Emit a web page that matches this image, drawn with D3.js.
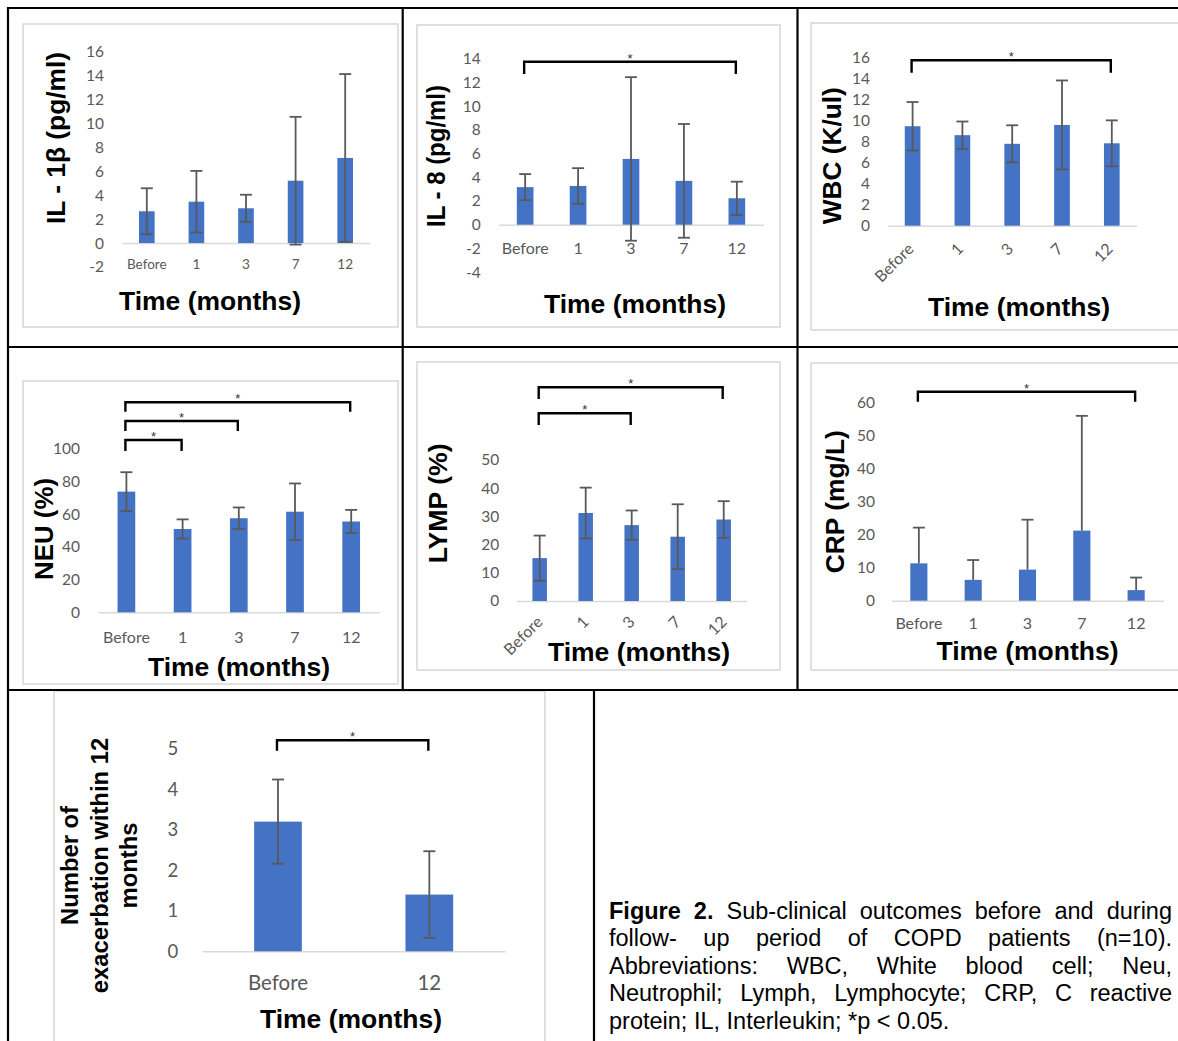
<!DOCTYPE html>
<html><head><meta charset="utf-8">
<script src="https://cdn.jsdelivr.net/npm/d3@7"></script>
<style>body{margin:0;background:#fff}svg{display:block}</style>
</head><body>
<script>
// ---------------- DATA ----------------
const categories = ["Before", "1", "3", "7", "12"];

const il1bMean = [2.65, 3.45, 2.9, 5.2, 7.1];
const il1bSD   = [1.92, 2.57, 1.13, 5.33, 7.0];
const il1bTicks = [-2, 0, 2, 4, 6, 8, 10, 12, 14, 16];

const il8Mean = [3.17, 3.27, 5.55, 3.7, 2.23];
const il8SD   = [1.1, 1.5, 6.9, 4.8, 1.4];
const il8Ticks = [-4, -2, 0, 2, 4, 6, 8, 10, 12, 14];
const il8Sig = [["Before", "12"]];

const wbcMean = [9.45, 8.6, 7.78, 9.57, 7.83];
const wbcSD   = [2.3, 1.3, 1.76, 4.23, 2.18];
const wbcTicks = [0, 2, 4, 6, 8, 10, 12, 14, 16];
const wbcSig = [["Before", "12"]];

const neuMean = [73.9, 51, 57.6, 61.6, 55.6];
const neuSD   = [11.9, 5.9, 6.6, 17.3, 7.1];
const neuTicks = [0, 20, 40, 60, 80, 100];
const neuSig = [["Before", "1"], ["Before", "3"], ["Before", "12"]];

const lympMean = [15.2, 31.2, 26.9, 22.8, 28.9];
const lympSD   = [8, 9, 5.2, 11.5, 6.5];
const lympTicks = [0, 10, 20, 30, 40, 50];
const lympSig = [["Before", "3"], ["Before", "12"]];

const crpMean = [11.3, 6.3, 9.4, 21.2, 3.2];
const crpSD   = [10.8, 6.0, 15.1, 34.7, 3.8];
const crpTicks = [0, 10, 20, 30, 40, 50, 60];
const crpSig = [["Before", "12"]];

const exacCategories = ["Before", "12"];
const exacMean = [3.2, 1.4];
const exacSD   = [1.04, 1.07];
const exacTicks = [0, 1, 2, 3, 4, 5];
const exacSig = [["Before", "12"]];

const xTitle = "Time (months)";
const yTitles = ["IL - 1β (pg/ml)", "IL - 8 (pg/ml)", "WBC (K/ul)", "NEU (%)", "LYMP (%)", "CRP (mg/L)"];
const exacTitleLines = ["Number of", "exacerbation within 12", "months"];

const captionLines = [
  ["Figure", "2.", "Sub-clinical", "outcomes", "before", "and", "during"],
  ["follow-", "up", "period", "of", "COPD", "patients", "(n=10)."],
  ["Abbreviations:", "WBC,", "White", "blood", "cell;", "Neu,"],
  ["Neutrophil;", "Lymph,", "Lymphocyte;", "CRP,", "C", "reactive"],
  ["protein;", "IL,", "Interleukin;", "*p", "<", "0.05."]
];
const captionBoldCount = 2;

// ---------------- LAYOUT ----------------
const W = 1178, H = 1041;
const BAR = "#4472C4", ERR = "#595959", AXIS = "#d9d9d9", TXT = "#595959";
const tickFont = "Lato, 'Open Sans', sans-serif";
const titleFont = "'Liberation Sans', Arial, sans-serif";

const panels = [
  {cats: categories, mean: il1bMean, sd: il1bSD, ticks: il1bTicks, domain: [-2, 16], sig: [], br: [],
   box: [23, 24, 375, 303], yPx: [267, 51.3], xPx: [122, 370], tickX: 104, tickSize: 15.5,
   catY: 264, catSize: 13.5, rot: null, err: "both",
   yTitle: yTitles[0], yT: [65, 138], yLen: 172, xT: [210, 309.5]},
  {cats: categories, mean: il8Mean, sd: il8SD, ticks: il8Ticks, domain: [-4, 14], sig: il8Sig, br: [[61.7, 74]],
   box: [417, 25, 363, 302], yPx: [272.1, 58.8], xPx: [498.7, 763.3], tickX: 480.7, tickSize: 15.5,
   catY: 248, catSize: 16, rot: null, err: "both",
   yTitle: yTitles[1], yT: [445, 156], yLen: 142, xT: [635, 312.5]},
  {cats: categories, mean: wbcMean, sd: wbcSD, ticks: wbcTicks, domain: [0, 16], sig: wbcSig, br: [[60.3, 72.7]],
   box: [811, 23, 380, 307], yPx: [225.7, 57.3], xPx: [887.7, 1136.7], tickX: 870, tickSize: 15.5,
   catY: 250, catSize: 16, rot: [2, 250], err: "both",
   yTitle: yTitles[2], yT: [841, 155.7], yLen: 137, xT: [1019, 316]},
  {cats: categories, mean: neuMean, sd: neuSD, ticks: neuTicks, domain: [0, 100], sig: neuSig,
   br: [[440, 451], [421, 431], [402.3, 411.7]],
   box: [23, 381, 375, 303], yPx: [612.3, 449], xPx: [98.3, 379.3], tickX: 80, tickSize: 15.5,
   catY: 637.7, catSize: 16, rot: null, err: "both",
   yTitle: yTitles[3], yT: [53.3, 529], yLen: 102, xT: [239, 676]},
  {cats: categories, mean: lympMean, sd: lympSD, ticks: lympTicks, domain: [0, 50], sig: lympSig,
   br: [[413.3, 425], [387.3, 399]],
   box: [417, 362, 363, 308], yPx: [601, 460], xPx: [516.7, 746.7], tickX: 499.3, tickSize: 15.5,
   catY: 623, catSize: 16, rot: [4, 623], err: "both",
   yTitle: yTitles[4], yT: [446.7, 503.3], yLen: 120, xT: [639, 661]},
  {cats: categories, mean: crpMean, sd: crpSD, ticks: crpTicks, domain: [0, 60], sig: crpSig, br: [[391.7, 401.7]],
   box: [811, 363, 380, 307], yPx: [600.7, 402.3], xPx: [891.7, 1163.3], tickX: 875, tickSize: 15.5,
   catY: 623.3, catSize: 16, rot: null, err: "plus",
   yTitle: yTitles[5], yT: [844.3, 501.7], yLen: 143, xT: [1027.5, 659.5]},
  {cats: exacCategories, mean: exacMean, sd: exacSD, ticks: exacTicks, domain: [0, 5], sig: exacSig, br: [[740.3, 750.7]],
   box: [54, 691, 491, 370], yPx: [951.3, 748.7], xPx: [202.3, 505], tickX: 178.3, tickSize: 18.5,
   catY: 983, catSize: 20.5, rot: null, err: "both",
   yTitle: null, yT: null, yLen: null, xT: [351, 1027.5]}
];

const svg = d3.select("body").append("svg").attr("width", W).attr("height", H)
  .style("background", "#fff");

panels.forEach((p, pi) => {
  const g = svg.append("g");
  g.append("rect").attr("x", p.box[0]).attr("y", p.box[1]).attr("width", p.box[2]).attr("height", p.box[3])
    .attr("fill", "#fff").attr("stroke", AXIS).attr("stroke-width", 1.6);

  const y = d3.scaleLinear().domain(p.domain).range(p.yPx);
  const x = d3.scaleBand().domain(p.cats).range(p.xPx).paddingInner(0.685).paddingOuter(0.3425);
  const data = p.cats.map((c, i) => ({c, m: p.mean[i], s: p.sd[i]}));
  const y0 = y(0);

  // y axis
  const ya = g.append("g").attr("transform", `translate(${p.tickX},0)`)
    .call(d3.axisLeft(y).tickValues(p.ticks).tickSize(0).tickPadding(0).tickFormat(d => String(d)));
  ya.select(".domain").remove();
  ya.attr("font-family", tickFont).attr("font-size", p.tickSize).attr("color", TXT);

  // x axis
  const xa = g.append("g").attr("transform", `translate(0,${y0})`)
    .call(d3.axisBottom(x).tickSize(0).tickSizeOuter(0));
  xa.select(".domain").attr("stroke", AXIS).attr("stroke-width", 1.6);
  xa.attr("font-family", tickFont).attr("font-size", p.catSize).attr("color", TXT);
  if (p.rot) {
    xa.selectAll(".tick text").attr("y", 0).attr("dy", 0).attr("text-anchor", "end")
      .attr("transform", `translate(${p.rot[0]},${p.rot[1] - y0}) rotate(-45)`);
  } else {
    xa.selectAll(".tick text").attr("y", p.catY - y0).attr("dy", "0.35em");
  }

  // bars
  g.append("g").selectAll("rect").data(data).join("rect")
    .attr("x", d => x(d.c)).attr("width", x.bandwidth())
    .attr("y", d => y(Math.max(0, d.m))).attr("height", d => Math.abs(y(d.m) - y0))
    .attr("fill", BAR);

  // error bars
  const eg = g.append("g").attr("stroke", ERR).attr("stroke-width", 1.8).attr("fill", "none");
  const cap = 6;
  data.forEach(d => {
    const cx = x(d.c) + x.bandwidth() / 2;
    const hi = y(d.m + d.s);
    const lo = p.err === "plus" ? y(d.m) : y(d.m - d.s);
    eg.append("line").attr("x1", cx).attr("x2", cx).attr("y1", hi).attr("y2", lo);
    eg.append("line").attr("x1", cx - cap).attr("x2", cx + cap).attr("y1", hi).attr("y2", hi);
    if (p.err !== "plus")
      eg.append("line").attr("x1", cx - cap).attr("x2", cx + cap).attr("y1", lo).attr("y2", lo);
  });

  // significance brackets
  p.sig.forEach((s, k) => {
    const [top, bot] = p.br[k];
    const x1 = x(s[0]) + x.bandwidth() / 2 - 1;
    const x2 = x(s[1]) + x.bandwidth() / 2 - 1;
    g.append("path").attr("d", `M${x1},${bot}V${top}H${x2}V${bot}`)
      .attr("fill", "none").attr("stroke", "#000").attr("stroke-width", 2.4);
    g.append("text").attr("x", (x1 + x2) / 2).attr("y", top + 1).attr("text-anchor", "middle")
      .attr("font-family", titleFont).attr("font-size", 13).attr("fill", "#333").text("*");
  });

  // titles
  g.append("text").attr("x", p.xT[0]).attr("y", p.xT[1]).attr("text-anchor", "middle")
    .attr("font-family", titleFont).attr("font-weight", "bold").attr("font-size", 26)
    .attr("textLength", 182).attr("lengthAdjust", "spacingAndGlyphs").text(xTitle);
  if (p.yTitle) {
    g.append("text").attr("transform", `translate(${p.yT[0]},${p.yT[1]}) rotate(-90)`)
      .attr("text-anchor", "middle").attr("font-family", titleFont).attr("font-weight", "bold")
      .attr("font-size", 26).attr("textLength", p.yLen).attr("lengthAdjust", "spacingAndGlyphs")
      .text(p.yTitle);
  } else {
    const xs = [78.3, 108, 137];
    exacTitleLines.forEach((t, i) => {
      g.append("text").attr("transform", `translate(${xs[i]},865.5) rotate(-90)`)
        .attr("text-anchor", "middle").attr("font-family", titleFont).attr("font-weight", "bold")
        .attr("font-size", 23.8).text(t);
    });
  }
});

// grid lines
const grid = svg.append("g").attr("stroke", "#000").attr("stroke-width", 2.2).attr("fill", "none");
[[8, 8, 1178, 8], [8, 347, 1178, 347], [8, 690, 1178, 690],
 [8, 7, 8, 1041], [402.7, 8, 402.7, 690], [797.5, 8, 797.5, 690], [594, 690, 594, 1041]]
  .forEach(l => grid.append("line").attr("x1", l[0]).attr("y1", l[1]).attr("x2", l[2]).attr("y2", l[3]));

// caption (justified)
const capX0 = 609, capX1 = 1172, capY0 = 918.5, capLH = 27.5, capFont = 23.5;
const capG = svg.append("g").attr("font-family", titleFont).attr("font-size", capFont).attr("fill", "#000");
captionLines.forEach((words, i) => {
  const yy = capY0 + i * capLH;
  const nodes = words.map((w, j) => capG.append("text").attr("y", yy)
    .attr("font-weight", (i === 0 && j < captionBoldCount) ? "bold" : "normal").text(w));
  const widths = nodes.map(n => n.node().getComputedTextLength());
  const total = d3.sum(widths);
  const last = i === captionLines.length - 1;
  const gap = last ? capFont * 0.278 : (capX1 - capX0 - total) / (words.length - 1);
  let xx = capX0;
  nodes.forEach((n, j) => { n.attr("x", xx); xx += widths[j] + gap; });
});
</script>
</body></html>
